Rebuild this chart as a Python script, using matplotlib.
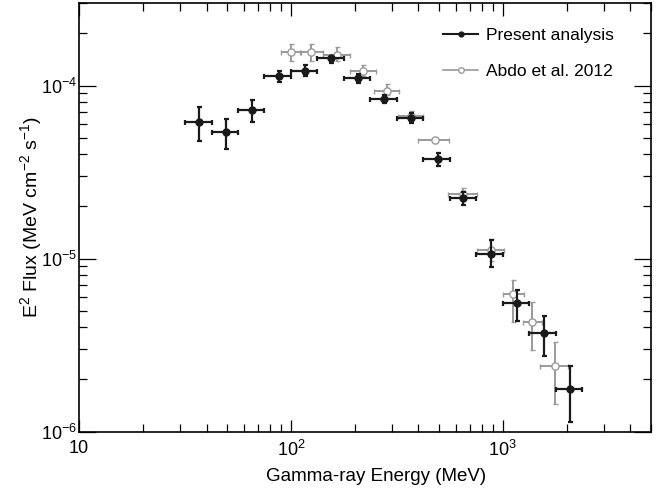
import numpy as np
import matplotlib
matplotlib.use('Agg')
import matplotlib.pyplot as plt
from matplotlib.lines import Line2D

plt.rcParams['font.family'] = ['Liberation Sans', 'DejaVu Sans']
plt.rcParams['mathtext.fontset'] = 'custom'
plt.rcParams['mathtext.rm'] = 'Liberation Sans'
plt.rcParams['mathtext.it'] = 'Liberation Sans:italic'

# present analysis (MeV, MeV cm-2 s-1)
e_pa = [36.9, 49.2, 65.8, 87.6, 117, 155, 208, 275, 370, 493, 652, 877, 1172, 1566, 2075]
e_pa_lo = [31.6, 42.2, 56.2, 75.0, 100, 133, 178, 237, 316, 422, 562, 750, 1000, 1334, 1778]
e_pa_hi = [42.2, 56.2, 75.0, 100, 133, 178, 237, 316, 422, 562, 750, 1000, 1334, 1778, 2371]
f_pa = [6.13e-5, 5.36e-5, 7.19e-5, 1.13e-4, 1.22e-4, 1.44e-4, 1.10e-4, 8.37e-5,
        6.50e-5, 3.76e-5, 2.23e-5, 1.06e-5, 5.50e-6, 3.71e-6, 1.75e-6]
f_pa_up = [7.53e-5, 6.44e-5, 8.30e-5, 1.21e-4, 1.31e-4, 1.49e-4, 1.16e-4, 8.83e-5,
           6.92e-5, 4.10e-5, 2.44e-5, 1.28e-5, 6.57e-6, 4.64e-6, 2.38e-6]
f_pa_dn = [4.76e-5, 4.28e-5, 6.16e-5, 1.045e-4, 1.13e-4, 1.355e-4, 1.04e-4, 7.94e-5,
           6.10e-5, 3.44e-5, 2.04e-5, 8.95e-6, 4.35e-6, 2.72e-6, 1.13e-6]

# Abdo et al. 2012
e_ab = [100, 125, 165, 220, 285, 370, 477, 648, 877, 1119, 1380, 1762]
e_ab_lo = [90, 110, 142, 190, 248, 320, 399, 551, 754, 998, 1247, 1496]
e_ab_hi = [111, 142, 191, 251, 322, 420, 557, 754, 1014, 1262, 1524, 2023]
f_ab = [1.56e-4, 1.56e-4, 1.51e-4, 1.21e-4, 9.35e-5, 6.7e-5, 4.82e-5, 2.37e-5,
        1.12e-5, 6.22e-6, 4.30e-6, 2.38e-6]
f_ab_up = [1.73e-4, 1.73e-4, 1.66e-4, 1.31e-4, 1.02e-4, 7.1e-5, 4.95e-5, 2.55e-5,
           1.30e-5, 7.50e-6, 5.62e-6, 3.30e-6]
f_ab_dn = [1.38e-4, 1.38e-4, 1.38e-4, 1.13e-4, 8.87e-5, 6.3e-5, 4.7e-5, 2.2e-5,
           9.7e-6, 4.27e-6, 2.95e-6, 1.45e-6]

def errs(c, lo, hi):
    c = np.array(c); lo = np.array(lo); hi = np.array(hi)
    return [c - lo, hi - c]

grey = '#9a9a9a'
fig = plt.figure(figsize=(6.72, 4.93), dpi=100)
ax = fig.add_axes([0.1176, 0.1247, 0.851, 0.8692])

ax.errorbar(e_ab, f_ab, xerr=errs(e_ab, e_ab_lo, e_ab_hi), yerr=errs(f_ab, f_ab_dn, f_ab_up),
            fmt='o', ms=5.2, mfc='white', mec=grey, mew=1.0, ecolor=grey, elinewidth=1.4,
            capsize=1.8, capthick=1.4, zorder=2)
ax.errorbar(e_pa, f_pa, xerr=errs(e_pa, e_pa_lo, e_pa_hi), yerr=errs(f_pa, f_pa_dn, f_pa_up),
            fmt='o', ms=5, color='#1a1a1a', ecolor='#1a1a1a', elinewidth=1.6,
            capsize=1.8, capthick=1.6, zorder=3)

ax.set_xscale('log')
ax.set_yscale('log')
ax.set_xlim(10, 5000)
ax.set_ylim(1e-6, 3e-4)
ax.set_xticks([10, 100, 1000])
ax.set_xticklabels(['10', '$10^2$', '$10^3$'])
ax.set_yticks([1e-6, 1e-5, 1e-4])
ax.set_yticklabels(['$10^{-6}$', '$10^{-5}$', '$10^{-4}$'])

ax.tick_params(which='both', direction='in', top=True, right=True, labelsize=13, width=0.9)
ax.tick_params(axis='x', which='major', length=9, pad=6)
ax.tick_params(axis='y', which='major', length=12, pad=1.5)
ax.tick_params(which='minor', length=5.5)
for s in ax.spines.values():
    s.set_linewidth(1.2)

ax.set_xlabel('Gamma-ray Energy (MeV)', fontsize=13.5)
ax.xaxis.set_label_coords(0.519, -0.085)
ax.set_ylabel('E$^2$ Flux (MeV cm$^{-2}$ s$^{-1}$)', fontsize=14, labelpad=-2)

h1 = Line2D([], [], color='#1a1a1a', lw=1.5, marker='o', ms=3.5)
h2 = Line2D([], [], color=grey, lw=1.2, marker='o', ms=4, mfc='white', mec=grey)
ax.legend([h1, h2], ['Present analysis', 'Abdo et al. 2012'], loc='upper left',
          bbox_to_anchor=(0.637, 0.943), frameon=False, fontsize=12.5, handlelength=2.0,
          handletextpad=0.45, labelspacing=1.25, borderpad=0, borderaxespad=0)

fig.savefig('out.png', dpi=100)
